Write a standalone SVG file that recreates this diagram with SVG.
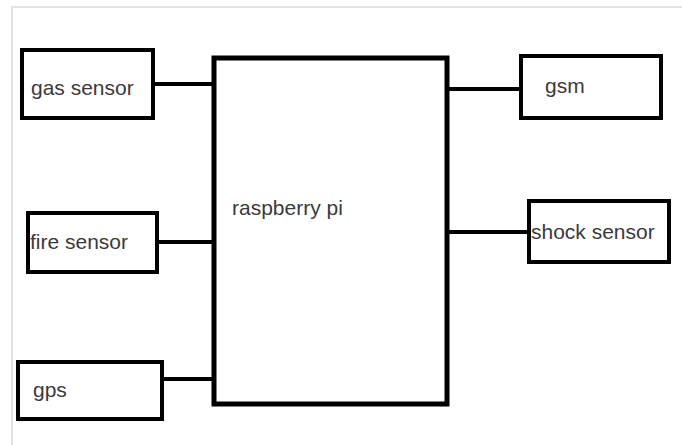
<svg xmlns="http://www.w3.org/2000/svg" width="682" height="445" viewBox="0 0 682 445">
<style>
.box{fill:#fff;stroke:#000;stroke-width:4}
.big{fill:#fff;stroke:#000;stroke-width:5}
.lbl{font-family:"Liberation Sans",Arial,sans-serif;font-size:21px;fill:#3a3a3a}
.wire{stroke:#000;stroke-width:4;fill:none}
.frame{stroke:#e2e2e2;stroke-width:2;fill:none}
</style>
<rect width="682" height="445" fill="#fff"/>
<path class="frame" d="M12 445 V7 H682"/>
<g id="connectors">
<line class="wire" x1="154" y1="84" x2="214" y2="84"/>
<line class="wire" x1="157" y1="242" x2="214" y2="242"/>
<line class="wire" x1="162" y1="379" x2="214" y2="379"/>
<line class="wire" x1="447" y1="89" x2="520" y2="89"/>
<line class="wire" x1="447" y1="232" x2="528" y2="232"/>
</g>
<g id="raspberry">
<rect class="big" x="214" y="58" width="233" height="346"/>
<text class="lbl" x="232" y="215">raspberry pi</text>
</g>
<g id="gas">
<rect class="box" x="22" y="50" width="131" height="68"/>
<text class="lbl" x="31" y="95">gas sensor</text>
</g>
<g id="fire">
<rect class="box" x="28" y="213" width="129" height="59"/>
<text class="lbl" x="30" y="249">fire sensor</text>
</g>
<g id="gps">
<rect class="box" x="18" y="362" width="144" height="57"/>
<text class="lbl" x="33" y="397">gps</text>
</g>
<g id="gsm">
<rect class="box" x="521" y="56" width="140" height="62"/>
<text class="lbl" x="545" y="93">gsm</text>
</g>
<g id="shock">
<rect class="box" x="529" y="201" width="140" height="61"/>
<text class="lbl" x="531" y="239">shock sensor</text>
</g>
</svg>
